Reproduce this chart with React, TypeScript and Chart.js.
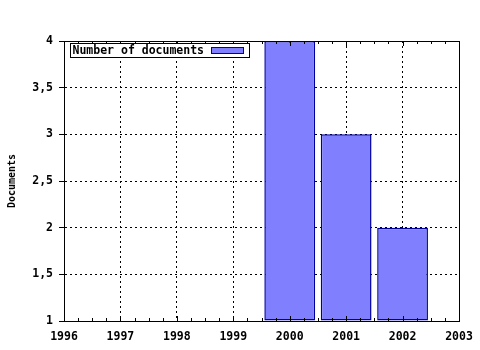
import React, { useEffect, useRef } from "react";
import { Chart, registerables } from "chart.js";

Chart.register(...registerables);

const years: number[] = [2000, 2001, 2002];
const documents: number[] = [4, 3, 2];
const seriesLabel = "Number of documents";
const xMin = 1996;
const xMax = 2003;
const yMin = 1;
const yMax = 4;
const yStep = 0.5;
const yTitle = "Documents";

const FONT = "'DejaVu Sans Mono', monospace";

const framePlugin = {
  id: "gnuplotFrame",
  afterDatasetsDraw(chart: any) {
    const { ctx, chartArea } = chart;
    const { left, right, top, bottom } = chartArea;
    const xs = chart.scales.x;
    ctx.save();
    ctx.strokeStyle = "#000";
    ctx.lineWidth = 1;
    ctx.setLineDash([]);
    ctx.beginPath();
    for (let i = 0; i <= (xMax - xMin) * 4; i++) {
      const v = xMin + i / 4;
      const px = Math.round(xs.getPixelForValue(v)) + 0.5;
      const len = i % 4 === 0 ? 5 : 3;
      ctx.moveTo(px, bottom);
      ctx.lineTo(px, bottom - len);
      ctx.moveTo(px, top);
      ctx.lineTo(px, top + len);
    }
    ctx.stroke();
    ctx.strokeRect(Math.round(left) + 0.5, Math.round(top) + 0.5, Math.round(right - left), Math.round(bottom - top));
    const ds = chart.data.datasets[0];
    const bx = Math.round(left) + 6.5;
    const by = Math.round(top) + 2.5;
    ctx.font = `bold 11.5px ${FONT}`;
    const tw = ctx.measureText(ds.label).width;
    const bw = Math.round(tw + 47);
    const bh = 14;
    ctx.fillStyle = "#fff";
    ctx.fillRect(bx, by, bw, bh);
    ctx.strokeRect(bx, by, bw, bh);
    ctx.fillStyle = "#000";
    ctx.textBaseline = "middle";
    ctx.textAlign = "left";
    ctx.fillText(ds.label, bx + 2, by + bh / 2 + 0.5);
    const sx = bx + bw - 38;
    const sy = by + 4;
    ctx.fillStyle = ds.backgroundColor;
    ctx.fillRect(sx, sy, 32, 6);
    ctx.strokeStyle = ds.borderColor;
    ctx.strokeRect(sx, sy, 32, 6);
    ctx.restore();
  },
};

export default function App() {
  const ref = useRef<HTMLCanvasElement | null>(null);

  useEffect(() => {
    if (!ref.current) return;
    Chart.defaults.font.family = FONT;
    Chart.defaults.font.weight = "bold";
    Chart.defaults.font.size = 11.5;
    Chart.defaults.color = "#000";
    const chart = new Chart(ref.current, {
      type: "bar",
      data: {
        datasets: [
          {
            label: seriesLabel,
            data: years.map((y, i) => ({ x: y, y: documents[i] })),
            backgroundColor: "#8080ff",
            borderColor: "#0000a0",
            borderWidth: 1.5,
            borderSkipped: false,
            base: yMin,
            categoryPercentage: 1,
            barPercentage: 0.9,
          } as any,
        ],
      },
      options: {
        animation: false,
        responsive: false,
        layout: { padding: { top: 41, right: 21, left: 0, bottom: 0 } },
        plugins: {
          legend: { display: false },
          tooltip: { enabled: false },
        },
        scales: {
          x: {
            type: "linear",
            min: xMin,
            max: xMax,
            offset: false,
            afterFit: (s: any) => {
              s.height = 29;
              s.paddingLeft = 0;
              s.paddingRight = 0;
            },
            ticks: {
              stepSize: 1,
              padding: 9,
              maxRotation: 0,
              autoSkip: false,
              callback: (v: any) => String(v),
            },
            grid: {
              color: "#000",
              drawTicks: false,
              offset: false,
            },
            border: { display: true, color: "#000", dash: [2, 3] },
          },
          y: {
            type: "linear",
            min: yMin,
            max: yMax,
            afterFit: (s: any) => {
              s.width = 64;
              s.paddingTop = 0;
              s.paddingBottom = 0;
            },
            ticks: {
              stepSize: yStep,
              padding: 6,
              callback: (v: any) => String(v).replace(".", ","),
            },
            grid: {
              color: "#000",
              tickLength: 5,
              tickBorderDash: [],
              tickColor: "#000",
            } as any,
            border: { display: true, color: "#000", dash: [2, 3] },
            title: {
              display: true,
              text: yTitle,
              font: { size: 10, weight: "bold", family: FONT },
              padding: { top: 6, bottom: 0 },
            },
          },
        },
      } as any,
      plugins: [framePlugin],
    });
    return () => chart.destroy();
  }, []);

  return (
    <div style={{ position: "absolute", left: 0, top: 0, width: 480, height: 350, background: "#fff" }}>
      <canvas ref={ref} width={480} height={350} />
    </div>
  );
}
